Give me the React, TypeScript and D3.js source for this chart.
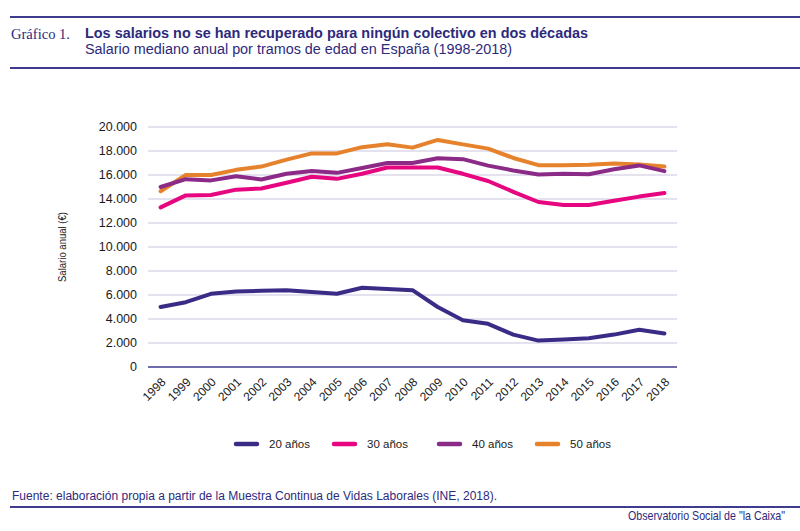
import React from "react";
import * as d3 from "d3";

const years = [1998, 1999, 2000, 2001, 2002, 2003, 2004, 2005, 2006, 2007, 2008, 2009, 2010, 2011, 2012, 2013, 2014, 2015, 2016, 2017, 2018];
const s20 = [5000, 5400, 6100, 6300, 6350, 6400, 6250, 6100, 6600, 6500, 6400, 5000, 3900, 3600, 2700, 2200, 2300, 2400, 2700, 3100, 2800];
const s30 = [13300, 14300, 14330, 14780, 14880, 15350, 15850, 15680, 16100, 16620, 16620, 16620, 16100, 15500, 14600, 13750, 13500, 13500, 13850, 14200, 14500];
const s40 = [15000, 15650, 15550, 15900, 15620, 16100, 16330, 16180, 16580, 17000, 17000, 17400, 17320, 16780, 16380, 16040, 16100, 16060, 16480, 16800, 16320];
const s50 = [14650, 16000, 16000, 16430, 16700, 17280, 17800, 17800, 18320, 18560, 18280, 18920, 18550, 18200, 17420, 16820, 16820, 16850, 16950, 16870, 16700];
const yTicks = [0, 2000, 4000, 6000, 8000, 10000, 12000, 14000, 16000, 18000, 20000];
const seriesNames = ["20 años", "30 años", "40 años", "50 años"];
const seriesValues = [s20, s30, s40, s50];
const seriesColors = ["#3a2c86", "#e6067f", "#8b2b87", "#e5822b"];

const NAVY = "#2d2a7c";
const RULE = "#3f3b8f";
const FONT = "'Liberation Sans', Arial, Helvetica, sans-serif";

export default function App() {
  const x = d3.scaleBand<number>().domain(years).range([148, 677]);
  const cx = (yr: number) => (x(yr) as number) + x.bandwidth() / 2;
  const y = d3.scaleLinear().domain([0, 20000]).range([367, 127]);
  const fmt = (v: number) => d3.format(",")(v).replace(/,/g, ".");
  const line = d3
    .line<number>()
    .x((_, i) => cx(years[i]))
    .y((d) => y(d));
  const drawOrder = [3, 2, 1, 0];
  const legendX = [236, 334, 439, 537];

  return (
    <svg width={800} height={531} style={{ position: "absolute", left: 0, top: 0, background: "#fff" }} fontFamily={FONT}>
      <rect x={0} y={0} width={800} height={531} fill="#fff" />
      {/* header */}
      <line x1={10} x2={800} y1={17} y2={17} stroke={RULE} strokeWidth={2} />
      <line x1={10} x2={800} y1={68} y2={68} stroke={RULE} strokeWidth={2} />
      <text x={11} y={39} fontFamily="'Liberation Serif', 'DejaVu Serif', serif" fontSize={14.5} fill={NAVY} textLength={59} lengthAdjust="spacingAndGlyphs">Gráfico 1.</text>
      <text x={85} y={38} fontSize={14} fontWeight="bold" fill={NAVY} textLength={503} lengthAdjust="spacingAndGlyphs">Los salarios no se han recuperado para ningún colectivo en dos décadas</text>
      <text x={85} y={54} fontSize={14} fill={NAVY} textLength={427} lengthAdjust="spacingAndGlyphs">Salario mediano anual por tramos de edad en España (1998-2018)</text>

      {/* grid */}
      {yTicks.map((t) => (
        <g key={t}>
          {t !== 0 && <line x1={148} x2={677} y1={y(t)} y2={y(t)} stroke="#c9c5de" strokeWidth={1} />}
          <text x={137} y={y(t)} dy="0.35em" textAnchor="end" fontSize={12.5} fill="#1a1a1a">{fmt(t)}</text>
        </g>
      ))}
      <line x1={148} x2={677} y1={y(0)} y2={y(0)} stroke={RULE} strokeWidth={1.5} />

      {/* x labels */}
      {years.map((yr) => (
        <text key={yr} transform={`translate(${cx(yr) + 3},${380}) rotate(-45)`} textAnchor="end" dominantBaseline="central" fontSize={12} fill="#1a1a1a">{yr}</text>
      ))}

      {/* y label */}
      <text transform="translate(62,247) rotate(-90)" textAnchor="middle" dominantBaseline="central" fontSize={10} fill="#1a1a1a" textLength={70} lengthAdjust="spacingAndGlyphs">Salario anual (€)</text>

      {/* lines */}
      {drawOrder.map((i) => (
        <path key={i} d={line(seriesValues[i]) || ""} fill="none" stroke={seriesColors[i]} strokeWidth={4} strokeLinejoin="round" strokeLinecap="round" />
      ))}

      {/* legend */}
      {seriesNames.map((n, i) => (
        <g key={n}>
          <line x1={legendX[i]} x2={legendX[i] + 21} y1={444} y2={444} stroke={seriesColors[i]} strokeWidth={4.5} strokeLinecap="round" />
          <text x={legendX[i] + 33} y={444} dy="0.35em" fontSize={11.5} fill="#1a1a1a">{n}</text>
        </g>
      ))}

      {/* footer */}
      <text x={12} y={500} fontSize={12.5} fill={NAVY} textLength={485} lengthAdjust="spacingAndGlyphs">Fuente: elaboración propia a partir de la Muestra Continua de Vidas Laborales (INE, 2018).</text>
      <line x1={10} x2={800} y1={507} y2={507} stroke={RULE} strokeWidth={2} />
      <text transform="translate(785,520) scale(0.89,1)" textAnchor="end" fontSize={12} fill={NAVY}>Observatorio Social de "la Caixa"</text>
    </svg>
  );
}
